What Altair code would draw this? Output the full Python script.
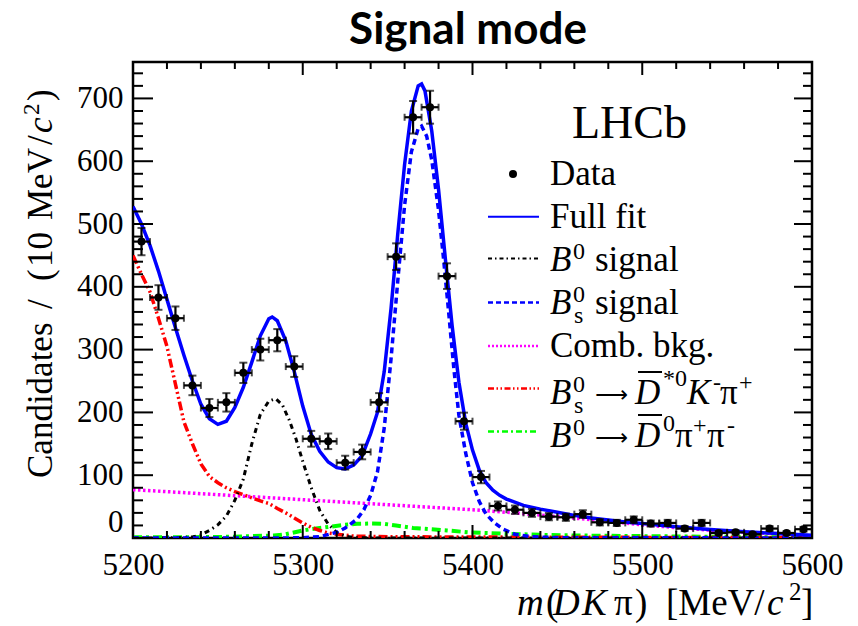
import altair as alt
import pandas as pd

# ---------------- data ----------------
bin_centers = [5205, 5215, 5225, 5235, 5245, 5255, 5265, 5275, 5285, 5295,
               5305, 5315, 5325, 5335, 5345, 5355, 5365, 5375, 5385, 5395,
               5405, 5415, 5425, 5435, 5445, 5455, 5465, 5475, 5485, 5495,
               5505, 5515, 5525, 5535, 5545, 5555, 5565, 5575, 5585, 5595]
counts = [472, 383, 350, 243, 207, 216, 263, 300, 315, 273,
          158, 154, 120, 137, 216, 448, 670, 686, 417, 186,
          97, 51, 45, 40, 34, 33, 38, 25, 24, 29,
          23, 24, 15, 24, 8, 9, 6, 15, 8, 14]
errors = [21.7, 19.6, 18.7, 15.6, 14.4, 14.7, 16.2, 17.3, 17.7, 16.5,
          12.6, 12.4, 11.0, 11.7, 14.7, 21.2, 25.9, 26.2, 20.4, 13.6,
          9.8, 7.1, 6.7, 6.3, 5.8, 5.7, 6.2, 5.0, 4.9, 5.4,
          4.8, 4.9, 3.9, 4.9, 2.8, 3.0, 2.4, 3.9, 2.8, 3.7]

fit_m = [5200, 5205, 5210, 5215, 5220, 5225, 5230, 5235, 5240, 5245, 5250, 5255,
         5260, 5265, 5270, 5275, 5280, 5282, 5285, 5290, 5295, 5300, 5305, 5310,
         5315, 5320, 5325, 5330, 5335, 5340, 5344, 5348, 5352, 5356, 5360, 5364,
         5368, 5370, 5372, 5376, 5380, 5384, 5388, 5392, 5396, 5400, 5404, 5408,
         5412, 5416, 5420, 5430, 5440, 5450, 5460, 5470, 5480, 5490, 5500, 5520,
         5540, 5560, 5580, 5600]
fit_v = [528, 500, 466, 425, 380, 335, 291, 250, 213, 190, 181, 186,
         208, 240, 280, 322, 349, 352, 346, 314, 265, 210, 165, 138,
         121, 112, 110, 116, 131, 166, 200, 265, 365, 485, 595, 680,
         720, 723, 712, 648, 555, 445, 338, 248, 183, 140, 108, 88,
         76, 68, 62, 52, 46, 41, 36, 32, 28.5, 25.5, 23, 18,
         13.5, 10, 7, 4.5]

b0_m = [5200, 5225, 5235, 5240, 5245, 5250, 5255, 5260, 5265, 5270, 5275, 5280,
        5284, 5288, 5292, 5296, 5300, 5305, 5310, 5315, 5320, 5325, 5330, 5340, 5600]
b0_v = [0, 0.3, 1.5, 5, 12, 21, 35, 60, 94, 150, 197, 218,
        222, 212, 188, 158, 122, 80, 44, 22, 9, 3, 1, 0, 0]

bs_m = [5200, 5290, 5300, 5310, 5320, 5325, 5332, 5336, 5340, 5344, 5348, 5352,
        5356, 5360, 5364, 5368, 5370, 5373, 5376, 5380, 5383, 5386, 5389, 5392,
        5396, 5400, 5404, 5408, 5413, 5418, 5425, 5435, 5450, 5600]
bs_v = [0, 0, 0.5, 2, 9, 16, 30, 45, 68, 105, 175, 285,
        410, 530, 615, 652, 656, 640, 602, 522, 443, 358, 270, 195,
        135, 88, 58, 38, 24, 14, 6, 2, 0.5, 0]

comb_m = [5200, 5250, 5300, 5350, 5400, 5425, 5450, 5475, 5500, 5525, 5550, 5575, 5600]
comb_v = [77, 69, 61, 53, 45, 40, 34, 28, 21, 15.5, 10.5, 7, 3.5]

red_m = [5200, 5205, 5210, 5215, 5220, 5225, 5230, 5235, 5240, 5245, 5250, 5255,
         5260, 5265, 5270, 5275, 5280, 5285, 5290, 5295, 5300, 5305, 5310, 5315,
         5320, 5330, 5350, 5400, 5500, 5600]
red_v = [450, 420, 392, 350, 305, 245, 185, 150, 118, 98, 88, 80,
         74, 69, 64, 59, 55, 47, 40, 32, 24, 17, 12, 8,
         6, 3, 2, 1.5, 1, 0.5]

green_m = [5200, 5250, 5270, 5283, 5290, 5300, 5310, 5316, 5325, 5332, 5340, 5348,
           5355, 5365, 5375, 5385, 5398, 5418, 5440, 5460, 5500, 5550, 5600]
green_v = [1, 1.5, 3, 4, 6, 12, 16, 18, 21, 22.5, 23, 22.5,
           20, 16, 14, 12, 9, 7, 5, 4, 3, 1.8, 0.8]

x_major = [5200, 5300, 5400, 5500, 5600]
y_major = [0, 100, 200, 300, 400, 500, 600, 700]
x_minor = [v for v in range(5200, 5601, 20) if v % 100]
y_minor = [v for v in range(0, 758, 20) if v % 100]

# ---------------- layout ----------------
W, H = 679, 476
L, T0 = 133, 62
SERIF = "Liberation Serif"

xs = alt.Scale(domain=[5200, 5600], nice=False, zero=False)
ys = alt.Scale(domain=[0, 758], nice=False, zero=False)
xax = alt.Axis(values=x_major, format="d", labelFont=SERIF, labelFontSize=31,
               labelColor="black", ticks=False, domain=False, grid=False,
               title=None, labelPadding=12, labelFlush=False)
yax = alt.Axis(values=y_major, format="d", labelFont=SERIF, labelFontSize=31,
               labelColor="black", ticks=False, domain=False, grid=False,
               title=None, labelPadding=10, labelFlush=1)


def X(f):
    return alt.X(f, type="quantitative", scale=xs, axis=xax)


def Y(f):
    return alt.Y(f, type="quantitative", scale=ys, axis=yax)


dummy = pd.DataFrame({"d": [0]})


def curve(ms, vs, color, dash=None, width=3):
    df = pd.DataFrame({"m": ms, "v": vs})
    kw = dict(color=color, strokeWidth=width, clip=True)
    if dash:
        kw["strokeDash"] = dash
    return alt.Chart(df).mark_line(**kw).encode(x=X("m"), y=Y("v"))


def txt(s, x, y, size=35, style="normal", align="left", angle=None,
        font=SERIF, weight="normal"):
    kw = dict(text=s, font=font, fontSize=size, fontStyle=style,
              fontWeight=weight, align=align, baseline="alphabetic", color="black")
    if angle is not None:
        kw["angle"] = angle
    return alt.Chart(dummy).mark_text(**kw).encode(
        x=alt.value(x - L), y=alt.value(y - T0))


def seg(y, color, dash=None, width=2, x1=488, x2=539):
    kw = dict(color=color, strokeWidth=width)
    if dash:
        kw["strokeDash"] = dash
    return alt.Chart(dummy).mark_rule(**kw).encode(
        x=alt.value(x1 - L), x2=alt.value(x2 - L), y=alt.value(y - T0))


layers = []

# components
DASH_B0 = [5, 4, 1.5, 4]
DASH_BS = [6, 4]
DASH_COMB = [2.5, 2.5]
DASH_RED = [9, 3, 2, 3, 2, 3]
DASH_GREEN = [9, 4, 3, 4]
GREEN = "#00ff00"
layers.append(curve(comb_m, comb_v, "#ff00ff", DASH_COMB, 3.5))
layers.append(curve(green_m, green_v, GREEN, DASH_GREEN, 4))
layers.append(curve(red_m, red_v, "#ff0000", DASH_RED, 3.5))
layers.append(curve(b0_m, b0_v, "black", DASH_B0, 3))
layers.append(curve(bs_m, bs_v, "#0000ff", DASH_BS, 3.5))
layers.append(curve(fit_m, fit_v, "#0000ff", None, 3.5))

# data with error bars
pts = pd.DataFrame({"m": bin_centers, "n": counts, "e": errors})
pts["lo"] = pts["m"] - 5
pts["hi"] = pts["m"] + 5
pts["ylo"] = pts["n"] - pts["e"]
pts["yhi"] = pts["n"] + pts["e"]
base = alt.Chart(pts)
layers.append(base.mark_rule(color="black", strokeWidth=2.2).encode(
    x=X("m"), y=Y("ylo"), y2="yhi"))
layers.append(base.mark_rule(color="black", strokeWidth=2.2).encode(
    x=X("lo"), x2="hi", y=Y("n")))
layers.append(base.mark_tick(color="black", orient="horizontal", size=8, thickness=2).encode(
    x=X("m"), y=Y("ylo")))
layers.append(base.mark_tick(color="black", orient="horizontal", size=8, thickness=2).encode(
    x=X("m"), y=Y("yhi")))
layers.append(base.mark_tick(color="black", orient="vertical", size=7, thickness=2).encode(
    x=X("lo"), y=Y("n")))
layers.append(base.mark_tick(color="black", orient="vertical", size=7, thickness=2).encode(
    x=X("hi"), y=Y("n")))
layers.append(base.mark_circle(color="black", size=64, opacity=1).encode(
    x=X("m"), y=Y("n")))

# inward ticks
xmaj = alt.Chart(pd.DataFrame({"m": x_major}))
xmin = alt.Chart(pd.DataFrame({"m": x_minor}))
ymaj = alt.Chart(pd.DataFrame({"v": y_major}))
ymin = alt.Chart(pd.DataFrame({"v": y_minor}))
tk = dict(color="black", strokeWidth=2)
layers.append(xmaj.mark_rule(**tk).encode(x=X("m"), y=alt.value(H), y2=alt.value(H - 13)))
layers.append(xmaj.mark_rule(**tk).encode(x=X("m"), y=alt.value(0), y2=alt.value(13)))
layers.append(xmin.mark_rule(**tk).encode(x=X("m"), y=alt.value(H), y2=alt.value(H - 7)))
layers.append(xmin.mark_rule(**tk).encode(x=X("m"), y=alt.value(0), y2=alt.value(7)))
layers.append(ymaj.mark_rule(**tk).encode(y=Y("v"), x=alt.value(0), x2=alt.value(20)))
layers.append(ymaj.mark_rule(**tk).encode(y=Y("v"), x=alt.value(W - 18), x2=alt.value(W)))
layers.append(ymin.mark_rule(**tk).encode(y=Y("v"), x=alt.value(0), x2=alt.value(10)))
layers.append(ymin.mark_rule(**tk).encode(y=Y("v"), x=alt.value(W - 9), x2=alt.value(W)))

# legend
layers.append(alt.Chart(dummy).mark_circle(color="black", size=64, opacity=1).encode(
    x=alt.value(513 - L), y=alt.value(174 - T0)))
layers.append(seg(216.7, "#0000ff", None, 2))
layers.append(seg(258.5, "black", [4, 3, 1.5, 3], 2))
layers.append(seg(302.5, "#0000ff", [5, 3], 2.5))
layers.append(seg(346, "#ff00ff", [2, 2], 2.5))
layers.append(seg(388.5, "#ff0000", [6, 2.5, 1.5, 2.5, 1.5, 2.5], 2.5))
layers.append(seg(431.5, GREEN, [6, 3, 2, 3], 2.5))

S = 35
SUP = 24
ARROW_FONT = "DejaVu Sans"
layers.append(txt("Data", 550, 185, S))
layers.append(txt("Full fit", 550, 228, S))
# B0 signal
layers.append(txt("B", 550, 271, S, "italic"))
layers.append(txt("0", 573, 259, SUP))
layers.append(txt("signal", 595, 271, S))
# Bs signal
layers.append(txt("B", 550, 314, S, "italic"))
layers.append(txt("0", 573, 302, SUP))
layers.append(txt("s", 574, 323, SUP))
layers.append(txt("signal", 595, 314, S))
# Comb
layers.append(txt("Comb. bkg.", 550, 357, S))
# Bs -> D*0 K pi
layers.append(txt("B", 550, 404, S, "italic"))
layers.append(txt("0", 573, 392, SUP))
layers.append(txt("s", 574, 413, SUP))
layers.append(txt("\u27f6", 595, 402, 23, font=ARROW_FONT))
layers.append(txt("D", 635, 404, S, "italic"))
layers.append(seg(372, "black", None, 2, 638, 662))
layers.append(txt("*0", 663, 386, SUP))
layers.append(txt("K", 687, 404, S, "italic"))
layers.append(txt("-", 713, 390, SUP))
layers.append(txt("\u03c0", 720, 404, S))
layers.append(txt("+", 739, 390, SUP))
# B0 -> D0 pi pi
layers.append(txt("B", 550, 447, S, "italic"))
layers.append(txt("0", 573, 435, SUP))
layers.append(txt("\u27f6", 595, 445, 23, font=ARROW_FONT))
layers.append(txt("D", 635, 447, S, "italic"))
layers.append(seg(415, "black", None, 2, 638, 662))
layers.append(txt("0", 663, 431, SUP))
layers.append(txt("\u03c0", 675, 447, S))
layers.append(txt("+", 693, 433, SUP))
layers.append(txt("\u03c0", 707, 447, S))
layers.append(txt("-", 727, 433, SUP))

# LHCb label
layers.append(txt("LHCb", 572, 138, 46))

# title
layers.append(txt("Signal mode", 468, 44, 44, align="center", font="Lato", weight="bold"))

# x-axis title pieces
XS = 37
layers.append(txt("m", 517, 615, XS, "italic"))
layers.append(txt("(", 546, 615, XS))
layers.append(txt("D", 553, 615, XS, "italic"))
layers.append(txt("K", 582, 615, XS, "italic"))
layers.append(txt("\u03c0", 614, 615, XS))
layers.append(txt(")", 635, 615, XS))
layers.append(txt("[MeV/", 666, 615, XS))
layers.append(txt("c", 767, 615, XS, "italic"))
layers.append(txt("2", 789, 600, 25))
layers.append(txt("]", 801, 615, XS))

# y-axis title pieces (rotated, reading upwards)
YS = 35
YB = 52
layers.append(txt("Candidates", YB, 478, YS, angle=270))
layers.append(txt("/", YB, 309, YS, angle=270))
layers.append(txt("(", YB, 281, YS, angle=270))
layers.append(txt("10", YB, 267, YS, angle=270))
layers.append(txt("MeV", YB, 220, YS, angle=270))
layers.append(txt("/", YB, 145, YS, angle=270))
layers.append(txt("c", YB, 133, YS, "italic", angle=270))
layers.append(txt("2", YB - 13, 115, 23, angle=270))
layers.append(txt(")", YB, 101, YS, angle=270))

chart = alt.layer(*layers).properties(
    width=W, height=H,
    autosize=alt.AutoSizeParams(type="none"),
    padding={"left": L, "top": T0, "right": 858 - L - W, "bottom": 626 - T0 - H},
    background="white",
).configure_view(
    stroke="black", strokeWidth=2.5
).configure_axis(
    labelFont=SERIF, labelFontSize=31, labelColor="black"
)

chart.save("out.html", embed_options={"renderer": "svg", "actions": False})
